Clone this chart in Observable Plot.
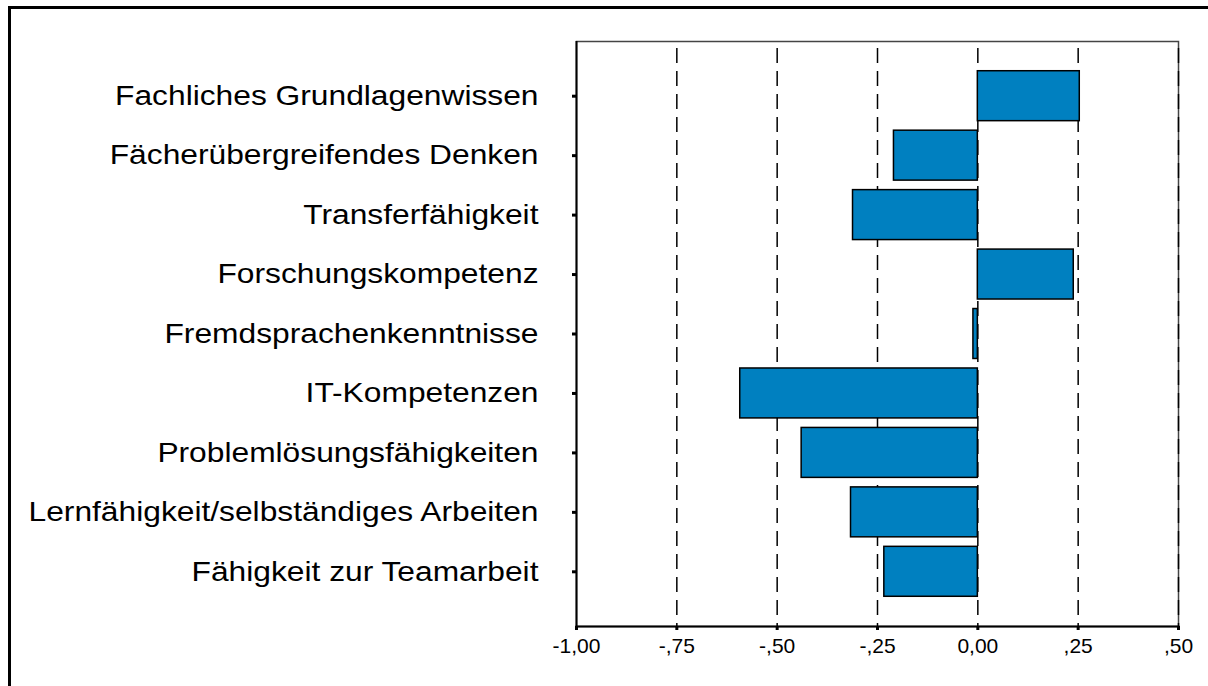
<!DOCTYPE html>
<html>
<head>
<meta charset="utf-8">
<script src="https://cdn.jsdelivr.net/npm/d3@7"></script>
<script src="https://cdn.jsdelivr.net/npm/@observablehq/plot@0.6"></script>
<style>
  html, body { margin: 0; padding: 0; background: #fff; overflow: hidden; width: 1208px; height: 686px; }
  #frame { position: absolute; left: 8px; top: 6px; width: 1400px; height: 900px; border: 3px solid #000; box-sizing: border-box; }
  #chart { position: absolute; left: 0; top: 0; }
</style>
</head>
<body>
<div id="frame"></div>
<div id="chart"></div>
<script>
const categories = [
  "Fachliches Grundlagenwissen",
  "Fächerübergreifendes Denken",
  "Transferfähigkeit",
  "Forschungskompetenz",
  "Fremdsprachenkenntnisse",
  "IT-Kompetenzen",
  "Problemlösungsfähigkeiten",
  "Lernfähigkeit/selbständiges Arbeiten",
  "Fähigkeit zur Teamarbeit"
];
const values = [0.254, -0.209, -0.311, 0.239, -0.011, -0.592, -0.439, -0.316, -0.233];
const xTicks = [-1, -0.75, -0.5, -0.25, 0, 0.25, 0.5];
const xTickLabels = ["-1,00", "-,75", "-,50", "-,25", "0,00", ",25", ",50"];
const gridValues = [-0.75, -0.5, -0.25, 0, 0.25, 0.5];

const data = categories.map((c, i) => ({category: c, value: values[i]}));

const chart = Plot.plot({
  width: 1208,
  height: 686,
  marginLeft: 576,
  marginRight: 30,
  marginTop: 41,
  marginBottom: 60,
  style: {fontFamily: "'Liberation Sans', Arial, sans-serif", background: "transparent", color: "#000"},
  x: {domain: [-1, 0.5]},
  y: {domain: categories, paddingInner: 0.16, paddingOuter: 0.5, round: false},
  marks: [
    Plot.frame({stroke: "#444", strokeWidth: 1.5}),
    Plot.ruleX(gridValues, {stroke: "#000", strokeWidth: 1.5, strokeDasharray: "15,8", strokeDashoffset: 16}),
    Plot.barX(data, {y: "category", x1: 0, x2: "value", fill: "#0080C0", stroke: "#000", strokeWidth: 1.5}),
    Plot.ruleX([-1], {stroke: "#000", strokeWidth: 2}),
    Plot.frame({anchor: "bottom", stroke: "#000", strokeWidth: 2}),
    Plot.axisX({
      ticks: xTicks,
      tickFormat: (d) => xTickLabels[xTicks.indexOf(d)],
      tickSize: 4,
      strokeWidth: 3,
      tickPadding: 8,
      fontSize: 21,
      label: null
    }),
    Plot.axisY({
      tickSize: 4,
      strokeWidth: 3,
      tickPadding: 34,
      fontSize: 27.5,
      label: null
    })
  ]
});

const svg = chart;
document.getElementById("chart").appendChild(svg);

// stretch y labels horizontally to match the reference's wide lettering
svg.querySelectorAll('g[aria-label="y-axis tick label"] text').forEach(t => {
  t.setAttribute("transform", (t.getAttribute("transform") || "") + " scale(1.155,1)");
});
</script>
</body>
</html>
